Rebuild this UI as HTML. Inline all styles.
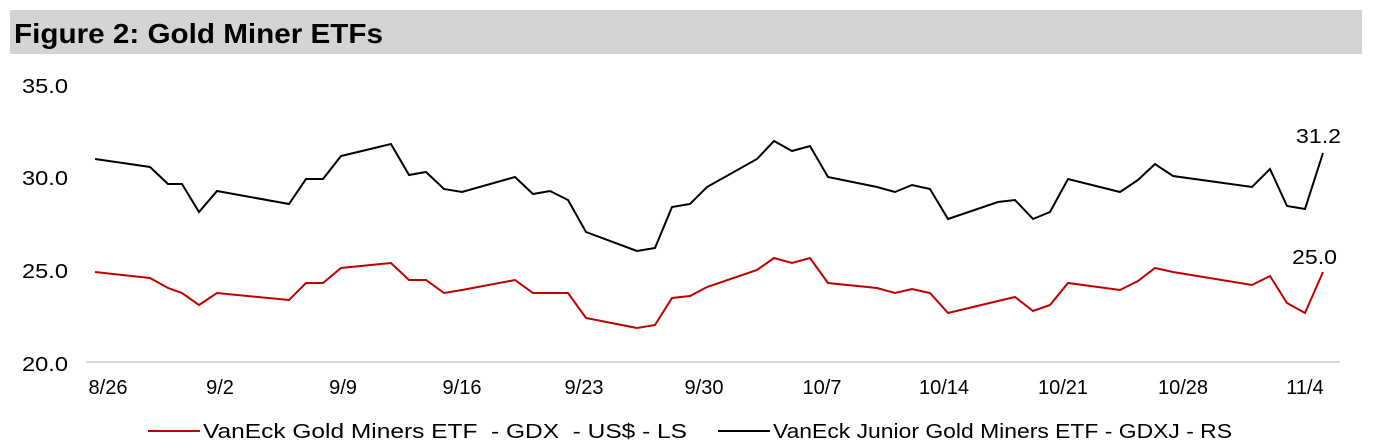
<!DOCTYPE html>
<html><head><meta charset="utf-8"><style>
body{margin:0;background:#fff;}
svg{display:block;font-family:"Liberation Sans",Arial,sans-serif;}
</style></head><body>
<svg width="1378" height="448" xmlns="http://www.w3.org/2000/svg">
<rect x="10" y="10" width="1352" height="44" fill="#d4d4d4"/>
<text x="14" y="43" font-size="28" font-weight="bold" fill="#000" textLength="369" lengthAdjust="spacingAndGlyphs">Figure 2: Gold Miner ETFs</text>
<g font-size="20" fill="#000">
<text x="22" y="93" textLength="46" lengthAdjust="spacingAndGlyphs">35.0</text>
<text x="22" y="185" textLength="46" lengthAdjust="spacingAndGlyphs">30.0</text>
<text x="22" y="278" textLength="46" lengthAdjust="spacingAndGlyphs">25.0</text>
<text x="22" y="371" textLength="46" lengthAdjust="spacingAndGlyphs">20.0</text>
</g>
<line x1="86" y1="362" x2="1340" y2="362" stroke="#d9d9d9" stroke-width="2"/>
<g font-size="20" fill="#000" text-anchor="middle">
<text x="108" y="394">8/26</text><text x="220" y="394">9/2</text><text x="343" y="394">9/9</text>
<text x="462" y="394">9/16</text><text x="584" y="394">9/23</text><text x="704" y="394">9/30</text>
<text x="822" y="394">10/7</text><text x="944" y="394">10/14</text><text x="1063" y="394">10/21</text>
<text x="1183" y="394">10/28</text><text x="1305" y="394">11/4</text>
</g>
<polyline fill="none" stroke="#000" stroke-width="2" points="95,159 150,167 168,184 182,184 199,212 217,191 289,204 306,179 323,179 341,156 391,144 409,175 426,172 444,189 462,192 515,177 533,194 550,191 568,200 586,232 637,251 655,248 672,207 690,204 707,187 757,159 774,141 792,151 810,146 828,177 877,187 895,192 912,185 930,189 948,219 998,202 1015,200 1033,219 1050,212 1068,179 1120,192 1138,180 1155,164 1173,176 1252,187 1270,169 1287,206 1305,209 1323,153"/>
<polyline fill="none" stroke="#c00000" stroke-width="2" points="95,272 150,278 168,288 182,293 199,305 217,293 289,300 306,283 323,283 341,268 391,263 409,280 426,280 444,293 462,290 515,280 533,293 550,293 568,293 586,318 637,328 655,325 672,298 690,296 707,287 757,270 774,258 792,263 810,258 828,283 877,288 895,293 912,289 930,293 948,313 998,301 1015,297 1033,311 1050,305 1068,283 1120,290 1138,281 1155,268 1173,272 1252,285 1270,276 1287,303 1305,313 1323,272"/>
<text x="1296" y="143" font-size="20" fill="#000" textLength="45" lengthAdjust="spacingAndGlyphs">31.2</text>
<text x="1292" y="264" font-size="20" fill="#000" textLength="45" lengthAdjust="spacingAndGlyphs">25.0</text>
<line x1="148" y1="431" x2="200" y2="431" stroke="#c00000" stroke-width="2"/>
<text x="203" y="438" font-size="20" fill="#000" xml:space="preserve" textLength="484" lengthAdjust="spacingAndGlyphs">VanEck Gold Miners ETF  - GDX  - US$ - LS</text>
<line x1="718" y1="431" x2="770" y2="431" stroke="#000" stroke-width="2"/>
<text x="773" y="438" font-size="20" fill="#000" textLength="459" lengthAdjust="spacingAndGlyphs">VanEck Junior Gold Miners ETF - GDXJ - RS</text>
</svg>
</body></html>
